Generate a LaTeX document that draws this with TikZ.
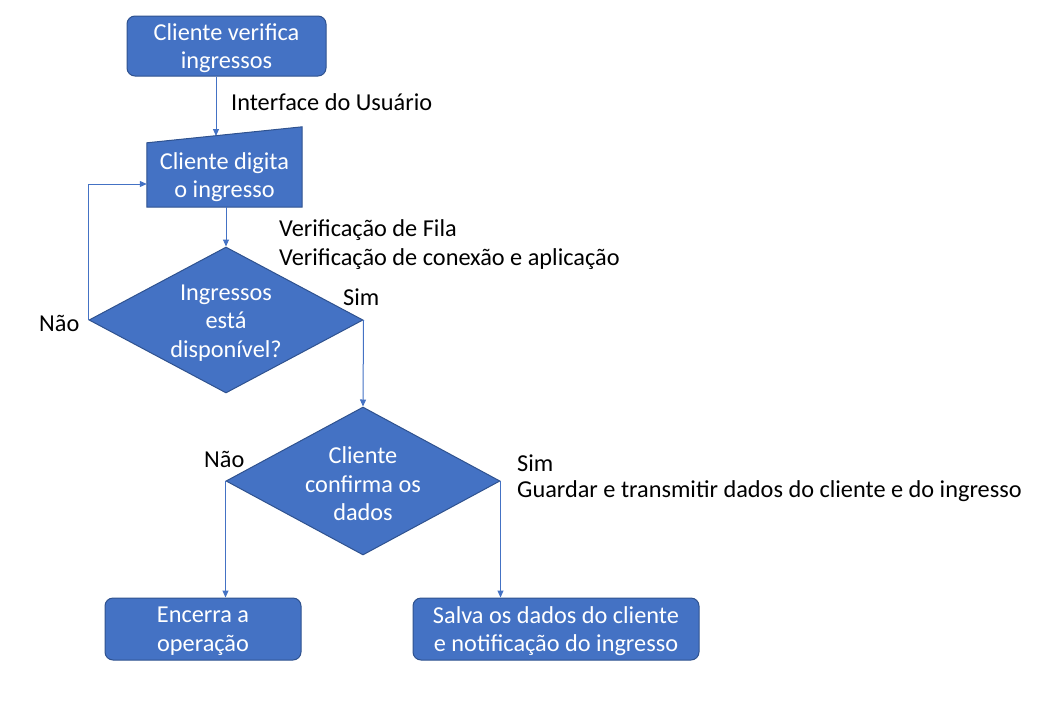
\documentclass[tikz,border=0pt]{standalone}
\usepackage{fontspec}
\setmainfont{Carlito}
\usetikzlibrary{shapes.geometric,arrows.meta}
\definecolor{fillb}{HTML}{4472C4}
\definecolor{edgeb}{HTML}{2F528F}
\begin{document}
\begin{tikzpicture}[x=1pt,y=-1pt,
  every node/.style={font=\fontsize{24.3}{28.5}\selectfont},
  box/.style={draw=edgeb, fill=fillb, line width=1pt, rounded corners=8pt, inner sep=0},
  dia/.style={diamond, draw=edgeb, fill=fillb, line width=1pt, inner sep=0},
  wtext/.style={text=white, align=center, inner sep=0},
  lbl/.style={text=black, inner sep=0, anchor=west},
  arr/.style={draw=fillb, line width=1pt, -{Triangle[length=7pt,width=6pt]}},
]
\useasboundingbox (0,0) rectangle (1044,718);

% shapes
\node[box, minimum width=199, minimum height=60] (b1) at (226.5,46) {};
\node[wtext] (t1) at (226.5,48) {Cliente verifica\\ingressos};

\node[inner sep=0, minimum width=155, minimum height=80] (mi) at (224.5,167) {};
\fill[fillb, draw=edgeb, line width=1pt] (mi.south west) -- (mi.south east) -- (mi.north east) -- ([yshift=-16pt]mi.north west) -- cycle;
\node[wtext] (t2) at (224.5,177) {Cliente digita\\o ingresso};
\coordinate (mitop) at (216,136);

\node[dia, minimum width=274, minimum height=146] (d1) at (226,320) {};
\node[wtext] (t3) at (226,323) {Ingressos\\está\\disponível?};

\node[dia, minimum width=274, minimum height=148] (d2) at (363,481) {};
\node[wtext] (t4) at (363,484) {Cliente\\confirma os\\dados};

\node[box, minimum width=196, minimum height=62] (b3) at (203,629) {};
\node[wtext] (t5) at (203,631) {Encerra a\\operação};

\node[box, minimum width=286, minimum height=62] (b4) at (556,629) {};
\node[wtext] (t6) at (556,631) {Salva os dados do cliente\\e notificação do ingresso};

% labels
\node[lbl] (l1) at (231,102) {Interface do Usuário};
\node[lbl] (l2) at (279,230) {Verificação de Fila};
\node[lbl] (l3) at (279,259) {Verificação de conexão e aplicação};
\node[lbl] (l4) at (39,323) {Não};
\node[lbl] (l5) at (343,297) {Sim};
\node[lbl] (l6) at (204,459) {Não};
\node[lbl] (l7) at (517,463) {Sim};
\node[lbl] (l8) at (517,491) {Guardar e transmitir dados do cliente e do ingresso};

% connectors
\draw[arr] ([xshift=-10.5pt]b1.south) -- (mitop);
\draw[arr] (d1.north |- mi.south) -- (d1.north);
\draw[arr] (d1.west) |- ([yshift=-17pt]mi.west);
\draw[arr] (d1.east) -- (d2.north);
\draw[arr] (d2.west) -- (d2.west |- b3.north);
\draw[arr] (d2.east) -- (d2.east |- b4.north);
\end{tikzpicture}
\end{document}
